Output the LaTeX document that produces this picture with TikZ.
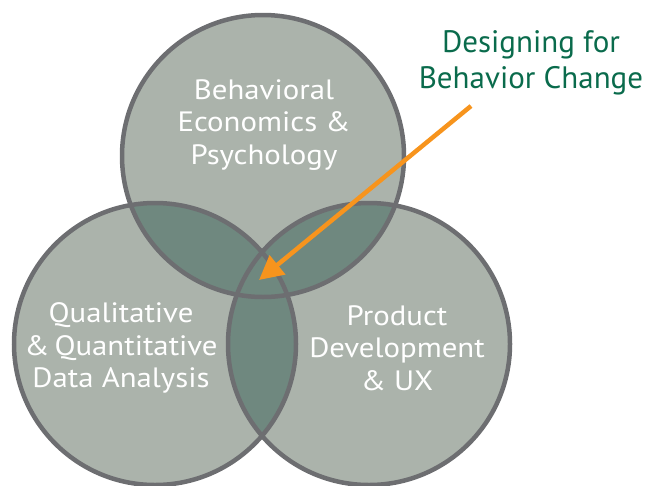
\documentclass[tikz,border=0pt]{standalone}
\usepackage{fontspec}
\setmainfont{PT Sans}
\usetikzlibrary{arrows.meta}
\definecolor{ringfill}{HTML}{ABB3AB}
\definecolor{overlapfill}{HTML}{6F887F}
\definecolor{ringline}{HTML}{6D6E71}
\definecolor{arroworange}{HTML}{F7941D}
\definecolor{titlegreen}{HTML}{0A6B4C}
\begin{document}
\begin{tikzpicture}[x=1pt,y=-1pt,
  ring/.style={draw=ringline,line width=4.5pt},
  ringlabel/.style={text=white,align=center,font=\fontsize{28}{32.5}\selectfont,inner sep=0pt,xscale=1.1},
  calloutlabel/.style={text=titlegreen,align=center,font=\fontsize{31}{36}\selectfont,inner sep=0pt},
  pointer/.style={draw=arroworange,line width=4.5pt,-{Triangle[length=24pt,width=24pt]}}]
\useasboundingbox (0,0) rectangle (645,485);
\coordinate (ct) at (263,156);
\coordinate (cl) at (155,344);
\coordinate (cr) at (369,344);
\def\R{141pt}
% base fills
\fill[ringfill] (ct) circle[radius=\R];
\fill[ringfill] (cl) circle[radius=\R];
\fill[ringfill] (cr) circle[radius=\R];
% overlaps
\begin{scope}
  \clip (ct) circle[radius=\R];
  \fill[overlapfill] (cl) circle[radius=\R];
  \fill[overlapfill] (cr) circle[radius=\R];
\end{scope}
\begin{scope}
  \clip (cl) circle[radius=\R];
  \fill[overlapfill] (cr) circle[radius=\R];
\end{scope}
% outlines
\draw[ring] (ct) circle[radius=\R];
\draw[ring] (cl) circle[radius=\R];
\draw[ring] (cr) circle[radius=\R];
% labels
\node[ringlabel] (top) at (264,125) {Behavioral\\Economics \&\\Psychology};
\node[ringlabel] (left) at (121,348) {Qualitative\\\&\,Quantitative\\Data Analysis};
\node[ringlabel] (right) at (397,348) {Product\\Development\\\& UX};
\node[calloutlabel] (dbc) at (531,63) {Designing for\\Behavior Change};
% arrow
\coordinate (astart) at (471,106);
\coordinate (atip) at (259,280);
\draw[pointer] (astart) -- (atip);
\end{tikzpicture}
\end{document}
